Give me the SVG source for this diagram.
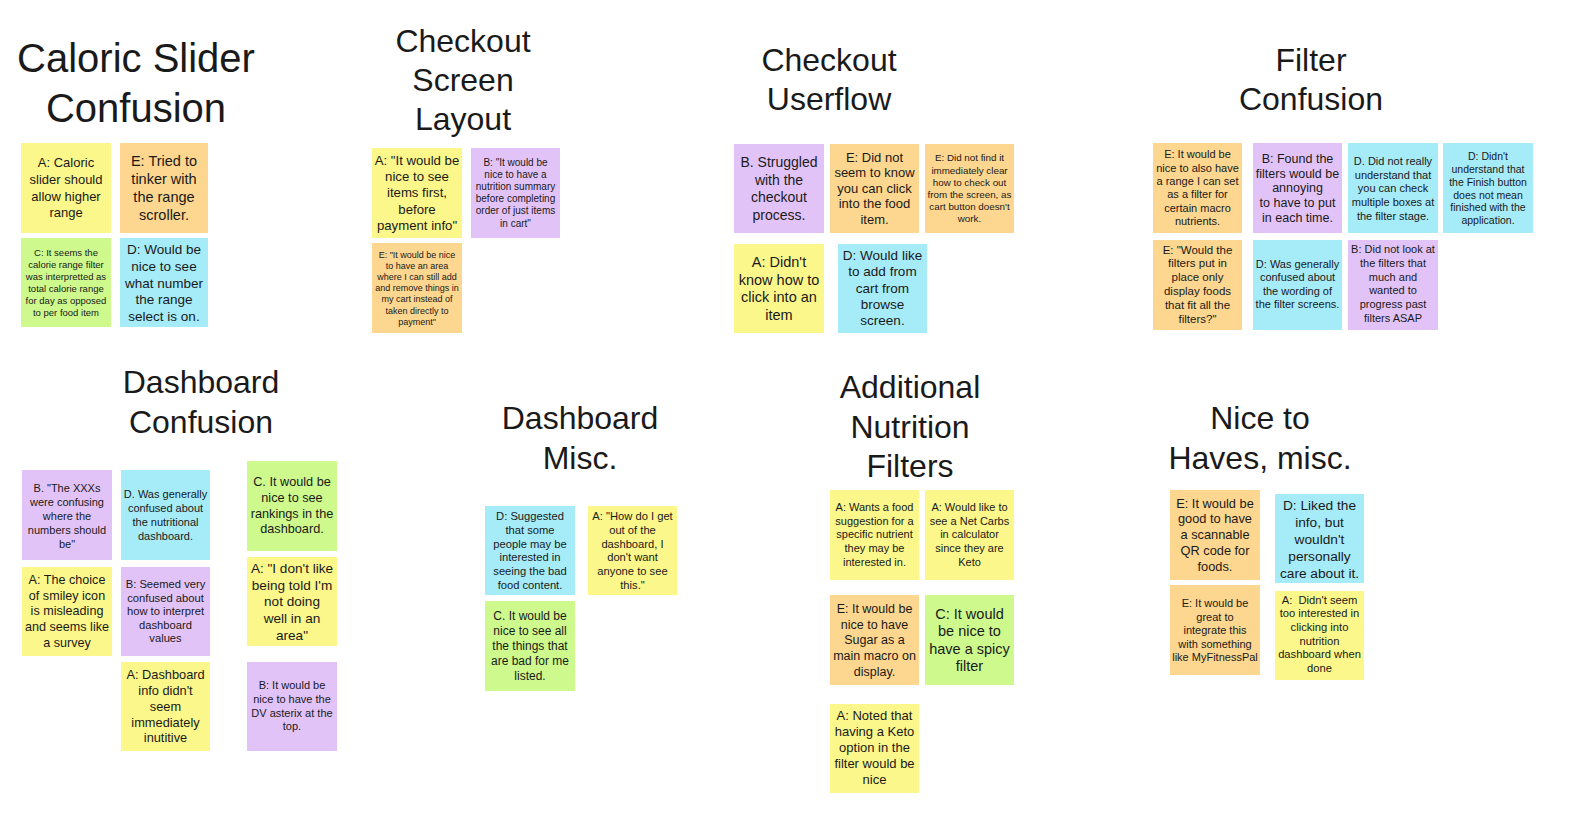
<svg xmlns="http://www.w3.org/2000/svg" width="1576" height="822" viewBox="0 0 1576 822">
<style>
.bg{fill:#ffffff}
.t{font-family:"Liberation Sans",Arial,sans-serif;fill:#1a1a1a;text-anchor:middle}
.h40{font-size:40px}
.h32{font-size:32px}
.y{fill:#fbf78a}
.o{fill:#fdd68f}
.p{fill:#e2c3f7}
.b{fill:#a6ebf8}
.g{fill:#cdf98d}
</style>
<rect class="bg" x="0" y="0" width="1576" height="822"/>
<g id="connectors"></g>

<g id="title-caloric"><text class="t h40" x="136" y="72"><tspan x="136">Caloric Slider</tspan><tspan x="136" dy="50">Confusion</tspan></text></g>
<g id="title-checkout-screen"><text class="t h32" x="463" y="52"><tspan x="463">Checkout</tspan><tspan x="463" dy="39">Screen</tspan><tspan x="463" dy="39">Layout</tspan></text></g>
<g id="title-checkout-userflow"><text class="t h32" x="829" y="71"><tspan x="829">Checkout</tspan><tspan x="829" dy="39">Userflow</tspan></text></g>
<g id="title-filter"><text class="t h32" x="1311" y="71"><tspan x="1311">Filter</tspan><tspan x="1311" dy="39">Confusion</tspan></text></g>
<g id="title-dashboard-confusion"><text class="t h32" x="201" y="393"><tspan x="201">Dashboard</tspan><tspan x="201" dy="40">Confusion</tspan></text></g>
<g id="title-dashboard-misc"><text class="t h32" x="580" y="429"><tspan x="580">Dashboard</tspan><tspan x="580" dy="40">Misc.</tspan></text></g>
<g id="title-additional"><text class="t h32" x="910" y="398"><tspan x="910">Additional</tspan><tspan x="910" dy="39.5">Nutrition</tspan><tspan x="910" dy="39.5">Filters</tspan></text></g>
<g id="title-nice"><text class="t h32" x="1260" y="429"><tspan x="1260">Nice to</tspan><tspan x="1260" dy="40">Haves, misc.</tspan></text></g>

<!-- Caloric Slider -->
<g id="cs-a"><rect class="y" x="21" y="143" width="90" height="90"/><text class="t" font-size="13" x="66" y="167.3"><tspan x="66">A: Caloric</tspan><tspan x="66" dy="16.6">slider should</tspan><tspan x="66" dy="16.6">allow higher</tspan><tspan x="66" dy="16.6">range</tspan></text></g>
<g id="cs-e"><rect class="o" x="120" y="143" width="88" height="90"/><text class="t" font-size="14.5" x="164" y="166.1"><tspan x="164">E: Tried to</tspan><tspan x="164" dy="18">tinker with</tspan><tspan x="164" dy="18">the range</tspan><tspan x="164" dy="18">scroller.</tspan></text></g>
<g id="cs-c"><rect class="g" x="21" y="238" width="90" height="89"/><text class="t" font-size="9.5" x="66" y="256.1"><tspan x="66">C: It seems the</tspan><tspan x="66" dy="12">calorie range filter</tspan><tspan x="66" dy="12">was interpretted as</tspan><tspan x="66" dy="12">total calorie range</tspan><tspan x="66" dy="12">for day as opposed</tspan><tspan x="66" dy="12">to per food item</tspan></text></g>
<g id="cs-d"><rect class="b" x="120" y="238" width="88" height="89"/><text class="t" font-size="13.5" x="164" y="254.2"><tspan x="164">D: Would be</tspan><tspan x="164" dy="16.65">nice to see</tspan><tspan x="164" dy="16.65">what number</tspan><tspan x="164" dy="16.65">the range</tspan><tspan x="164" dy="16.65">select is on.</tspan></text></g>

<!-- Checkout Screen Layout -->
<g id="csl-a"><rect class="y" x="372" y="148" width="90" height="90"/><text class="t" font-size="13.2" x="417" y="165.2"><tspan x="417">A: "It would be</tspan><tspan x="417" dy="16.1">nice to see</tspan><tspan x="417" dy="16.1">items first,</tspan><tspan x="417" dy="16.1">before</tspan><tspan x="417" dy="16.1">payment info"</tspan></text></g>
<g id="csl-b"><rect class="p" x="471" y="148" width="89" height="90"/><text class="t" font-size="10" x="515.5" y="166"><tspan x="515.5">B: "It would be</tspan><tspan x="515.5" dy="12.1">nice to have a</tspan><tspan x="515.5" dy="12.1">nutrition summary</tspan><tspan x="515.5" dy="12.1">before completing</tspan><tspan x="515.5" dy="12.1">order of just items</tspan><tspan x="515.5" dy="12.1">in cart"</tspan></text></g>
<g id="csl-e"><rect class="o" x="372" y="243" width="90" height="90"/><text class="t" font-size="9" x="417" y="258"><tspan x="417">E: "It would be nice</tspan><tspan x="417" dy="11.1">to have an area</tspan><tspan x="417" dy="11.1">where I can still add</tspan><tspan x="417" dy="11.1">and remove things in</tspan><tspan x="417" dy="11.1">my cart instead of</tspan><tspan x="417" dy="11.1">taken directly to</tspan><tspan x="417" dy="11.1">payment"</tspan></text></g>

<!-- Checkout Userflow -->
<g id="cu-b"><rect class="p" x="734" y="144" width="90" height="89"/><text class="t" font-size="14" x="779" y="166.6"><tspan x="779">B. Struggled</tspan><tspan x="779" dy="17.9">with the</tspan><tspan x="779" dy="17.9">checkout</tspan><tspan x="779" dy="17.9">process.</tspan></text></g>
<g id="cu-e1"><rect class="o" x="830" y="144" width="89" height="89"/><text class="t" font-size="13" x="874.5" y="161.6"><tspan x="874.5">E: Did not</tspan><tspan x="874.5" dy="15.6">seem to know</tspan><tspan x="874.5" dy="15.6">you can click</tspan><tspan x="874.5" dy="15.6">into the food</tspan><tspan x="874.5" dy="15.6">item.</tspan></text></g>
<g id="cu-e2"><rect class="o" x="925" y="144" width="89" height="89"/><text class="t" font-size="9.8" x="969.5" y="161.3"><tspan x="969.5">E: Did not find it</tspan><tspan x="969.5" dy="12.2">immediately clear</tspan><tspan x="969.5" dy="12.2">how to check out</tspan><tspan x="969.5" dy="12.2">from the screen, as</tspan><tspan x="969.5" dy="12.2">cart button doesn't</tspan><tspan x="969.5" dy="12.2">work.</tspan></text></g>
<g id="cu-a"><rect class="y" x="734" y="244" width="90" height="89"/><text class="t" font-size="14.5" x="779" y="266.8"><tspan x="779">A: Didn't</tspan><tspan x="779" dy="17.8">know how to</tspan><tspan x="779" dy="17.8">click into an</tspan><tspan x="779" dy="17.8">item</tspan></text></g>
<g id="cu-d"><rect class="b" x="838" y="244" width="89" height="89"/><text class="t" font-size="13.5" x="882.5" y="259.8"><tspan x="882.5">D: Would like</tspan><tspan x="882.5" dy="16.35">to add from</tspan><tspan x="882.5" dy="16.35">cart from</tspan><tspan x="882.5" dy="16.35">browse</tspan><tspan x="882.5" dy="16.35">screen.</tspan></text></g>

<!-- Filter Confusion -->
<g id="fc-e1"><rect class="o" x="1153" y="143" width="89" height="90"/><text class="t" font-size="11" x="1197.5" y="158.3"><tspan x="1197.5">E: It would be</tspan><tspan x="1197.5" dy="13.3">nice to also have</tspan><tspan x="1197.5" dy="13.3">a range I can set</tspan><tspan x="1197.5" dy="13.3">as a filter for</tspan><tspan x="1197.5" dy="13.3">certain macro</tspan><tspan x="1197.5" dy="13.3">nutrients.</tspan></text></g>
<g id="fc-b1"><rect class="p" x="1253" y="143" width="89" height="90"/><text class="t" font-size="12.5" x="1297.5" y="162.8"><tspan x="1297.5">B: Found the</tspan><tspan x="1297.5" dy="14.8">filters would be</tspan><tspan x="1297.5" dy="14.8">annoying</tspan><tspan x="1297.5" dy="14.8">to have to put</tspan><tspan x="1297.5" dy="14.8">in each time.</tspan></text></g>
<g id="fc-d1"><rect class="b" x="1348" y="143" width="90" height="90"/><text class="t" font-size="11" x="1393" y="164.9"><tspan x="1393">D. Did not really</tspan><tspan x="1393" dy="13.75">understand that</tspan><tspan x="1393" dy="13.75">you can check</tspan><tspan x="1393" dy="13.75">multiple boxes at</tspan><tspan x="1393" dy="13.75">the filter stage.</tspan></text></g>
<g id="fc-d2"><rect class="b" x="1443" y="143" width="90" height="90"/><text class="t" font-size="10.5" x="1488" y="159.8"><tspan x="1488">D: Didn't</tspan><tspan x="1488" dy="12.9">understand that</tspan><tspan x="1488" dy="12.9">the Finish button</tspan><tspan x="1488" dy="12.9">does not mean</tspan><tspan x="1488" dy="12.9">finished with the</tspan><tspan x="1488" dy="12.9">application.</tspan></text></g>
<g id="fc-e2"><rect class="o" x="1153" y="240" width="89" height="90"/><text class="t" font-size="11.5" x="1197.5" y="253.5"><tspan x="1197.5">E: "Would the</tspan><tspan x="1197.5" dy="13.8">filters put in</tspan><tspan x="1197.5" dy="13.8">place only</tspan><tspan x="1197.5" dy="13.8">display foods</tspan><tspan x="1197.5" dy="13.8">that fit all the</tspan><tspan x="1197.5" dy="13.8">filters?"</tspan></text></g>
<g id="fc-d3"><rect class="b" x="1253" y="240" width="89" height="90"/><text class="t" font-size="11" x="1297.5" y="267.6"><tspan x="1297.5">D: Was generally</tspan><tspan x="1297.5" dy="13.6">confused about</tspan><tspan x="1297.5" dy="13.6">the wording of</tspan><tspan x="1297.5" dy="13.6">the filter screens.</tspan></text></g>
<g id="fc-b2"><rect class="p" x="1348" y="240" width="90" height="90"/><text class="t" font-size="11" x="1393" y="253.3"><tspan x="1393">B: Did not look at</tspan><tspan x="1393" dy="13.7">the filters that</tspan><tspan x="1393" dy="13.7">much and</tspan><tspan x="1393" dy="13.7">wanted to</tspan><tspan x="1393" dy="13.7">progress past</tspan><tspan x="1393" dy="13.7">filters ASAP</tspan></text></g>

<!-- Dashboard Confusion -->
<g id="dc-b1"><rect class="p" x="22" y="470" width="90" height="90"/><text class="t" font-size="11" x="67" y="491.9"><tspan x="67">B. "The XXXs</tspan><tspan x="67" dy="13.9">were confusing</tspan><tspan x="67" dy="13.9">where the</tspan><tspan x="67" dy="13.9">numbers should</tspan><tspan x="67" dy="13.9">be"</tspan></text></g>
<g id="dc-d"><rect class="b" x="121" y="470" width="89" height="90"/><text class="t" font-size="11" x="165.5" y="497.9"><tspan x="165.5">D. Was generally</tspan><tspan x="165.5" dy="13.9">confused about</tspan><tspan x="165.5" dy="13.9">the nutritional</tspan><tspan x="165.5" dy="13.9">dashboard.</tspan></text></g>
<g id="dc-c"><rect class="g" x="247" y="461" width="90" height="90"/><text class="t" font-size="12.7" x="292" y="485.9"><tspan x="292">C. It would be</tspan><tspan x="292" dy="15.8">nice to see</tspan><tspan x="292" dy="15.8">rankings in the</tspan><tspan x="292" dy="15.8">dashboard.</tspan></text></g>
<g id="dc-a1"><rect class="y" x="22" y="567" width="90" height="89"/><text class="t" font-size="12.6" x="67" y="584.2"><tspan x="67">A: The choice</tspan><tspan x="67" dy="15.6">of smiley icon</tspan><tspan x="67" dy="15.6">is misleading</tspan><tspan x="67" dy="15.6">and seems like</tspan><tspan x="67" dy="15.6">a survey</tspan></text></g>
<g id="dc-b2"><rect class="p" x="121" y="567" width="89" height="89"/><text class="t" font-size="11.2" x="165.5" y="588"><tspan x="165.5">B: Seemed very</tspan><tspan x="165.5" dy="13.5">confused about</tspan><tspan x="165.5" dy="13.5">how to interpret</tspan><tspan x="165.5" dy="13.5">dashboard</tspan><tspan x="165.5" dy="13.5">values</tspan></text></g>
<g id="dc-a2"><rect class="y" x="247" y="557" width="90" height="89"/><text class="t" font-size="13.6" x="292" y="572.8"><tspan x="292">A: "I don't like</tspan><tspan x="292" dy="16.7">being told I'm</tspan><tspan x="292" dy="16.7">not doing</tspan><tspan x="292" dy="16.7">well in an</tspan><tspan x="292" dy="16.7">area"</tspan></text></g>
<g id="dc-a3"><rect class="y" x="121" y="662" width="89" height="89"/><text class="t" font-size="12.8" x="165.5" y="679.2"><tspan x="165.5">A: Dashboard</tspan><tspan x="165.5" dy="15.8">info didn't</tspan><tspan x="165.5" dy="15.8">seem</tspan><tspan x="165.5" dy="15.8">immediately</tspan><tspan x="165.5" dy="15.8">inutitive</tspan></text></g>
<g id="dc-b3"><rect class="p" x="247" y="662" width="90" height="89"/><text class="t" font-size="11" x="292" y="689.3"><tspan x="292">B: It would be</tspan><tspan x="292" dy="13.7">nice to have the</tspan><tspan x="292" dy="13.7">DV asterix at the</tspan><tspan x="292" dy="13.7">top.</tspan></text></g>

<!-- Dashboard Misc -->
<g id="dm-d"><rect class="b" x="485" y="506" width="90" height="89"/><text class="t" font-size="11.2" x="530" y="520"><tspan x="530">D: Suggested</tspan><tspan x="530" dy="13.8">that some</tspan><tspan x="530" dy="13.8">people may be</tspan><tspan x="530" dy="13.8">interested in</tspan><tspan x="530" dy="13.8">seeing the bad</tspan><tspan x="530" dy="13.8">food content.</tspan></text></g>
<g id="dm-a"><rect class="y" x="588" y="506" width="89" height="89"/><text class="t" font-size="11.2" x="632.5" y="520"><tspan x="632.5">A: "How do I get</tspan><tspan x="632.5" dy="13.8">out of the</tspan><tspan x="632.5" dy="13.8">dashboard, I</tspan><tspan x="632.5" dy="13.8">don't want</tspan><tspan x="632.5" dy="13.8">anyone to see</tspan><tspan x="632.5" dy="13.8">this."</tspan></text></g>
<g id="dm-c"><rect class="g" x="485" y="601" width="90" height="90"/><text class="t" font-size="12" x="530" y="620.3"><tspan x="530">C. It would be</tspan><tspan x="530" dy="15">nice to see all</tspan><tspan x="530" dy="15">the things that</tspan><tspan x="530" dy="15">are bad for me</tspan><tspan x="530" dy="15">listed.</tspan></text></g>

<!-- Additional Nutrition Filters -->
<g id="an-a1"><rect class="y" x="830" y="490" width="89" height="90"/><text class="t" font-size="11" x="874.5" y="510.6"><tspan x="874.5">A: Wants a food</tspan><tspan x="874.5" dy="13.9">suggestion for a</tspan><tspan x="874.5" dy="13.9">specific nutrient</tspan><tspan x="874.5" dy="13.9">they may be</tspan><tspan x="874.5" dy="13.9">interested in.</tspan></text></g>
<g id="an-a2"><rect class="y" x="925" y="490" width="89" height="90"/><text class="t" font-size="11" x="969.5" y="510.6"><tspan x="969.5">A: Would like to</tspan><tspan x="969.5" dy="13.9">see a Net Carbs</tspan><tspan x="969.5" dy="13.9">in calculator</tspan><tspan x="969.5" dy="13.9">since they are</tspan><tspan x="969.5" dy="13.9">Keto</tspan></text></g>
<g id="an-e"><rect class="o" x="830" y="595" width="89" height="90"/><text class="t" font-size="12.5" x="874.5" y="612.8"><tspan x="874.5">E: It would be</tspan><tspan x="874.5" dy="15.8">nice to have</tspan><tspan x="874.5" dy="15.8">Sugar as a</tspan><tspan x="874.5" dy="15.8">main macro on</tspan><tspan x="874.5" dy="15.8">display.</tspan></text></g>
<g id="an-c"><rect class="g" x="925" y="595" width="89" height="90"/><text class="t" font-size="14.5" x="969.5" y="618.5"><tspan x="969.5">C: It would</tspan><tspan x="969.5" dy="17.5">be nice to</tspan><tspan x="969.5" dy="17.5">have a spicy</tspan><tspan x="969.5" dy="17.5">filter</tspan></text></g>
<g id="an-a3"><rect class="y" x="830" y="704" width="89" height="89"/><text class="t" font-size="13" x="874.5" y="719.6"><tspan x="874.5">A: Noted that</tspan><tspan x="874.5" dy="16.1">having a Keto</tspan><tspan x="874.5" dy="16.1">option in the</tspan><tspan x="874.5" dy="16.1">filter would be</tspan><tspan x="874.5" dy="16.1">nice</tspan></text></g>

<!-- Nice to Haves -->
<g id="nh-e1"><rect class="o" x="1170" y="490" width="90" height="90"/><text class="t" font-size="12.8" x="1215" y="507.5"><tspan x="1215">E: It would be</tspan><tspan x="1215" dy="15.85">good to have</tspan><tspan x="1215" dy="15.85">a scannable</tspan><tspan x="1215" dy="15.85">QR code for</tspan><tspan x="1215" dy="15.85">foods.</tspan></text></g>
<g id="nh-d"><rect class="b" x="1275" y="494" width="89" height="89"/><text class="t" font-size="13.7" x="1319.5" y="510.2"><tspan x="1319.5">D: Liked the</tspan><tspan x="1319.5" dy="16.9">info, but</tspan><tspan x="1319.5" dy="16.9">wouldn't</tspan><tspan x="1319.5" dy="16.9">personally</tspan><tspan x="1319.5" dy="16.9">care about it.</tspan></text></g>
<g id="nh-e2"><rect class="o" x="1170" y="585" width="90" height="90"/><text class="t" font-size="11" x="1215" y="606.9"><tspan x="1215">E: It would be</tspan><tspan x="1215" dy="13.6">great to</tspan><tspan x="1215" dy="13.6">integrate this</tspan><tspan x="1215" dy="13.6">with something</tspan><tspan x="1215" dy="13.6">like MyFitnessPal</tspan></text></g>
<g id="nh-a"><rect class="y" x="1275" y="591" width="89" height="89"/><text class="t" font-size="11.2" x="1319.5" y="603.7"><tspan x="1319.5" style="white-space:pre">A:  Didn't seem</tspan><tspan x="1319.5" dy="13.67">too interested in</tspan><tspan x="1319.5" dy="13.67">clicking into</tspan><tspan x="1319.5" dy="13.67">nutrition</tspan><tspan x="1319.5" dy="13.67">dashboard when</tspan><tspan x="1319.5" dy="13.67">done</tspan></text></g>
</svg>
